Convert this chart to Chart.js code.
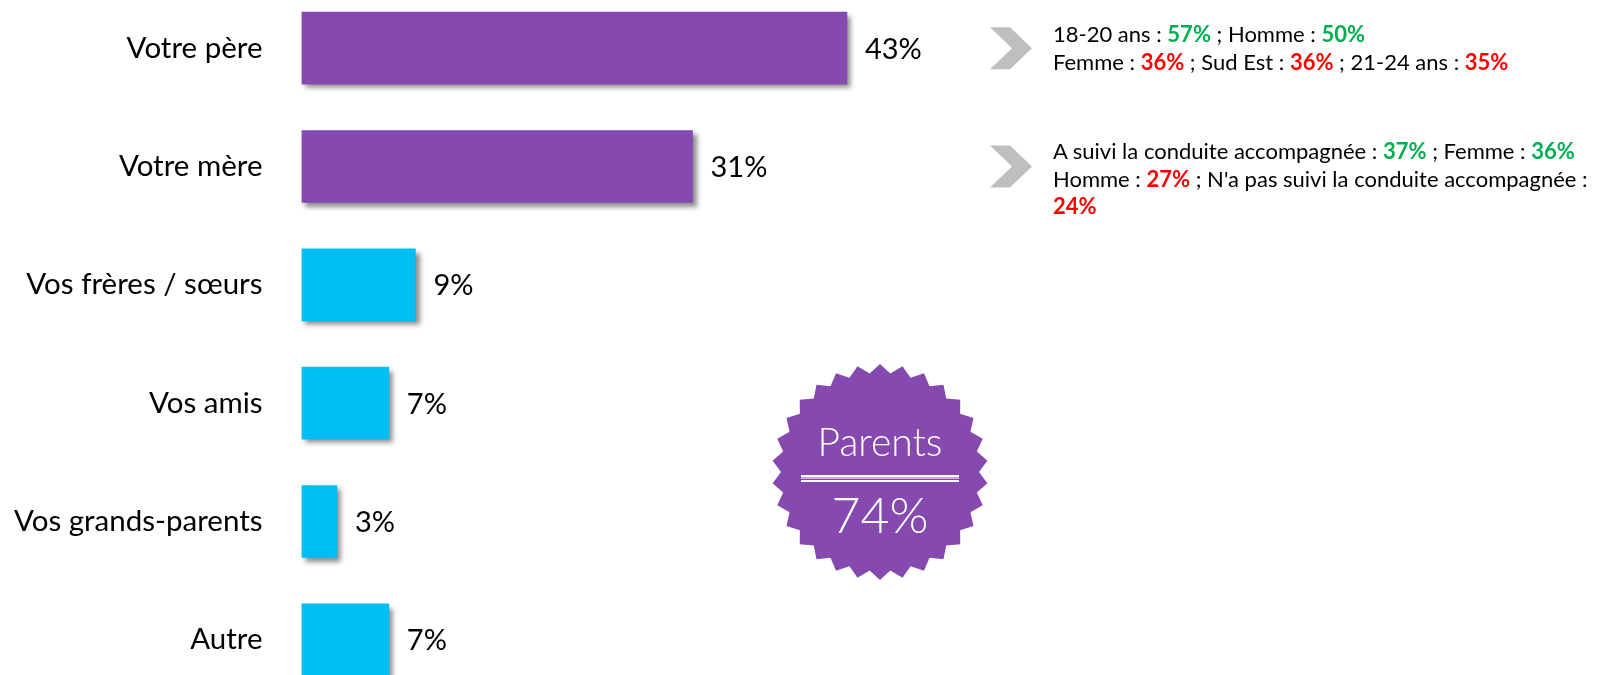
<!DOCTYPE html>
<html lang="fr">
<head>
<meta charset="utf-8">
<title>Qui vous a appris à conduire</title>
<script src="https://cdn.jsdelivr.net/npm/chart.js@4.4.1/dist/chart.umd.min.js"></script>
<style>
  html, body { margin: 0; padding: 0; background: #fff; }
  body { width: 1597px; height: 675px; position: relative; overflow: hidden; font-family: Lato, sans-serif; }
  #graph { position: absolute; left: 0; top: -11px; }
  .note { position: absolute; left: 1053px; font-size: 22px; line-height: 27.5px; color: #000; white-space: nowrap; }
  .up { color: #00B050; font-weight: bold; }
  .down { color: #FF0000; font-weight: bold; }
  .badge { position: absolute; left: 780px; width: 200px; color: #fff; font-weight: 300; text-align: center; white-space: nowrap; }
</style>
</head>
<body>
<canvas id="graph" width="1597" height="710"></canvas>

<div class="note" style="top:20px">
  18-20 ans : <span class="up">57%</span> ; Homme : <span class="up">50%</span><br>
  Femme : <span class="down">36%</span> ; Sud Est : <span class="down">36%</span> ; 21-24 ans : <span class="down">35%</span>
</div>
<div class="note" style="top:137px">
  A suivi la conduite accompagnée : <span class="up">37%</span> ; Femme : <span class="up">36%</span><br>
  Homme : <span class="down">27%</span> ; N'a pas suivi la conduite accompagnée :<br>
  <span class="down">24%</span>
</div>

<div class="badge" style="top:422px; font-size:39px; line-height:39px;">Parents</div>
<div class="badge" style="top:489px; font-size:50px; line-height:50px;">74%</div>

<script>
const categories = ['Votre père', 'Votre mère', 'Vos frères / sœurs', 'Vos amis', 'Vos grands-parents', 'Autre'];
const values = [43.1, 30.9, 9.0, 6.9, 2.8, 6.9];
const barColors = ['#8549AF', '#8549AF', '#00BEF2', '#00BEF2', '#00BEF2', '#00BEF2'];

const PURPLE = '#8549AF';
const OFFSET_Y = 11; // canvas sits 11px above the page top

// drop shadow under the bars + value labels at the bar ends
const barShadow = {
    id: 'barShadow',
    beforeDatasetsDraw(chart) {
        const c = chart.ctx;
        c.save();
        c.shadowColor = 'rgba(0,0,0,0.45)';
        c.shadowBlur = 5;
        c.shadowOffsetX = 4;
        c.shadowOffsetY = 4;
    },
    afterDatasetsDraw(chart) {
        const c = chart.ctx;
        c.restore();
        c.save();
        c.font = '29px Lato';
        c.fillStyle = '#000';
        c.textBaseline = 'middle';
        chart.getDatasetMeta(0).data.forEach((bar, i) => {
            c.fillText(Math.round(values[i]) + '%', bar.x + 18, bar.y + 1);
        });
        c.restore();
    }
};

// grey chevrons next to the first two bars, and the "Parents" star badge
const decorations = {
    id: 'decorations',
    afterDraw(chart) {
        const c = chart.ctx;
        const meta = chart.getDatasetMeta(0).data;
        c.save();
        c.fillStyle = '#BFBFBF';
        [meta[0].y, meta[1].y].forEach(y => {
            c.beginPath();
            c.moveTo(990, y - 21);
            c.lineTo(1010, y - 21);
            c.lineTo(1032, y);
            c.lineTo(1010, y + 21);
            c.lineTo(990, y + 21);
            c.lineTo(1012, y);
            c.closePath();
            c.fill();
        });

        const cx = 880, cy = 472 + OFFSET_Y, rOut = 108, rIn = 99, n = 30;
        c.fillStyle = PURPLE;
        c.beginPath();
        for (let i = 0; i < n * 2; i++) {
            const a = -Math.PI / 2 + i * Math.PI / n;
            const r = i % 2 === 0 ? rOut : rIn;
            const px = cx + r * Math.cos(a), py = cy + r * Math.sin(a);
            if (i === 0) c.moveTo(px, py); else c.lineTo(px, py);
        }
        c.closePath();
        c.fill();

        c.fillStyle = '#fff';
        c.fillRect(801, 475 + OFFSET_Y, 158, 2);
        c.fillStyle = '#D9A3EC';
        c.fillRect(801, 477 + OFFSET_Y, 158, 2);
        c.fillStyle = '#fff';
        c.fillRect(801, 480 + OFFSET_Y, 158, 2);
        c.restore();
    }
};

new Chart(document.getElementById('graph'), {
    type: 'bar',
    data: {
        labels: categories,
        datasets: [{
            data: values,
            backgroundColor: barColors,
            borderWidth: 0,
            barThickness: 72,
            categoryPercentage: 1
        }]
    },
    options: {
        indexAxis: 'y',
        responsive: false,
        devicePixelRatio: 1,
        animation: false,
        layout: { padding: { left: 0, right: 30, top: 0, bottom: 0 } },
        scales: {
            x: { display: false, min: 0, max: 100 },
            y: {
                grid: { display: false, drawTicks: true, tickLength: 39 },
                border: { display: false },
                ticks: { color: '#000', font: { family: 'Lato', size: 29.5 }, padding: 0 },
                afterFit(scale) {
                    scale.width = 301.5;
                    scale.paddingTop = 0;
                    scale.paddingBottom = 0;
                }
            }
        },
        plugins: {
            legend: { display: false },
            tooltip: { enabled: false }
        }
    },
    plugins: [barShadow, decorations]
});
</script>
</body>
</html>
